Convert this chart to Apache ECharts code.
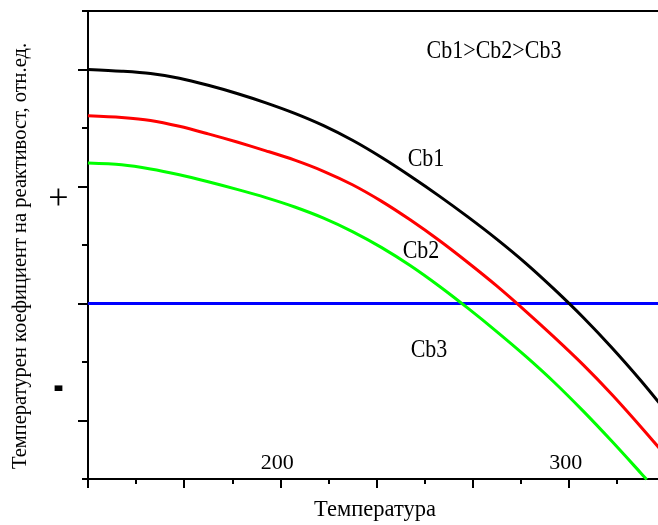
<!DOCTYPE html>
<html><head><meta charset="utf-8">
<script src="https://cdn.jsdelivr.net/npm/echarts@6/dist/echarts.min.js"></script>
<style>html,body{margin:0;padding:0;background:#fff}#c{width:658px;height:525px}</style>
</head><body><div id="c"></div>
<script>
// Temperature grid (x) and curve values (relative units, zero of reactivity coefficient at 3)
const temperature = [133.3, 145, 155, 165, 175, 185, 195, 205, 215, 225, 235, 245, 255, 265, 275, 285, 295, 305, 315, 325, 332];
const cb1 = [7.00, 6.97, 6.93, 6.85, 6.73, 6.59, 6.43, 6.25, 6.04, 5.79, 5.50, 5.18, 4.84, 4.48, 4.10, 3.69, 3.24, 2.76, 2.24, 1.68, 1.26];
const cb2 = [6.21, 6.18, 6.13, 6.03, 5.90, 5.76, 5.61, 5.45, 5.26, 5.03, 4.75, 4.43, 4.08, 3.70, 3.30, 2.87, 2.42, 1.95, 1.44, 0.89, 0.49];
const temperatureCb3 = [133.3, 145, 155, 165, 175, 185, 195, 205, 215, 225, 235, 245, 255, 265, 275, 285, 295, 305, 315, 325, 327];
const cb3 = [5.40, 5.37, 5.30, 5.20, 5.08, 4.95, 4.81, 4.65, 4.46, 4.23, 3.96, 3.65, 3.30, 2.92, 2.52, 2.10, 1.65, 1.16, 0.64, 0.10, -0.01];
const zeroTemperature = [133.3, 333.3];
const zeroLine = [3, 3];
const xTickLabels = [200, 300];
const yLongTicks = [1, 3, 5, 7];
const yShortTicks = [0, 2, 4, 6, 8];
const yTitle = 'Температурен коефициент на реактивост, отн.ед.';
const xTitle = 'Температура';
const curveNames = ['Cb1', 'Cb2', 'Cb3'];
const orderNote = 'Cb1>Cb2>Cb3';
const signLabels = ['+', '-'];

const pairs = (xs, ys) => xs.map((x, i) => [x, ys[i]]);
const FONT = '"Times New Roman","Liberation Serif",serif';
const txt = (text, x, y, size, extra, weight) => Object.assign({
  type: 'text', x: x, y: y, silent: true,
  style: { text: text, fontSize: size, fontWeight: weight || 'normal', fontFamily: FONT, fill: '#000',
    align: 'center', verticalAlign: 'middle', textAlign: 'center', textVerticalAlign: 'middle' }
}, extra || {});

const chart = echarts.init(document.getElementById('c'), null, { renderer: 'canvas' });
const axisCommon = { type: 'value', min: 400 / 3, max: 1000 / 3, interval: 100 / 3 };
const curve = (name, xs, ys, color) => ({
  name: name, type: 'line', data: pairs(xs, ys), smooth: 0.3, showSymbol: false,
  lineStyle: { color: color, width: 3 }, z: 3
});
chart.setOption({
  animation: false,
  backgroundColor: '#fff',
  grid: { left: 88, width: 577, top: 11, bottom: 46, containLabel: false, outerBoundsMode: 'none' },
  xAxis: [
    Object.assign({}, axisCommon, {
      position: 'bottom',
      axisLine: { show: true, onZero: false, lineStyle: { color: '#000', width: 2 } },
      axisTick: { show: true, inside: false, length: 9, lineStyle: { color: '#000', width: 2 } },
      minorTick: { show: true, splitNumber: 2, length: 5, lineStyle: { color: '#000', width: 2 } },
      axisLabel: { show: true, inside: true, margin: 5, customValues: xTickLabels,
        formatter: v => String(Math.round(v)), fontSize: 22, fontFamily: FONT, color: '#000', padding: [0, 6, 0, 0] },
      splitLine: { show: false }
    }),
    Object.assign({}, axisCommon, {
      position: 'top',
      axisLine: { show: true, onZero: false, lineStyle: { color: '#000', width: 2 } },
      axisTick: { show: false }, axisLabel: { show: false }, splitLine: { show: false }
    })
  ],
  yAxis: [
    { type: 'value', min: 0, max: 8, interval: 1, position: 'left',
      axisLine: { show: true, onZero: false, lineStyle: { color: '#000', width: 2 } },
      axisTick: { show: true, length: 10, customValues: yLongTicks, lineStyle: { color: '#000', width: 2 } },
      axisLabel: { show: false }, splitLine: { show: false } },
    { type: 'value', min: 0, max: 8, interval: 1, position: 'left',
      axisLine: { show: false },
      axisTick: { show: true, length: 6, customValues: yShortTicks, lineStyle: { color: '#000', width: 2 } },
      axisLabel: { show: false }, splitLine: { show: false } }
  ],
  series: [
    { name: 'zero', type: 'line', data: pairs(zeroTemperature, zeroLine), showSymbol: false,
      lineStyle: { color: '#0000ff', width: 3 }, z: 2 },
    curve(curveNames[0], temperature, cb1, '#000000'),
    curve(curveNames[1], temperature, cb2, '#ff0000'),
    curve(curveNames[2], temperatureCb3, cb3, '#00ff00')
  ],
  graphic: [
    txt(yTitle, 21, 256, 20.5, { rotation: Math.PI / 2 }),
    txt(xTitle, 375, 510, 22.5),
    txt(orderNote, 494, 52, 22, { scaleY: 1.12 }),
    txt(curveNames[0], 426, 160, 22, { scaleY: 1.12 }),
    txt(curveNames[1], 421, 251.5, 22, { scaleY: 1.12 }),
    txt(curveNames[2], 429, 350.5, 22, { scaleY: 1.12 }),
    txt(signLabels[0], 58.5, 199.5, 36),
    txt(signLabels[1], 58.5, 386.5, 30, { scaleY: 2.2 }, 'bold')
  ]
});
</script>
</body></html>
